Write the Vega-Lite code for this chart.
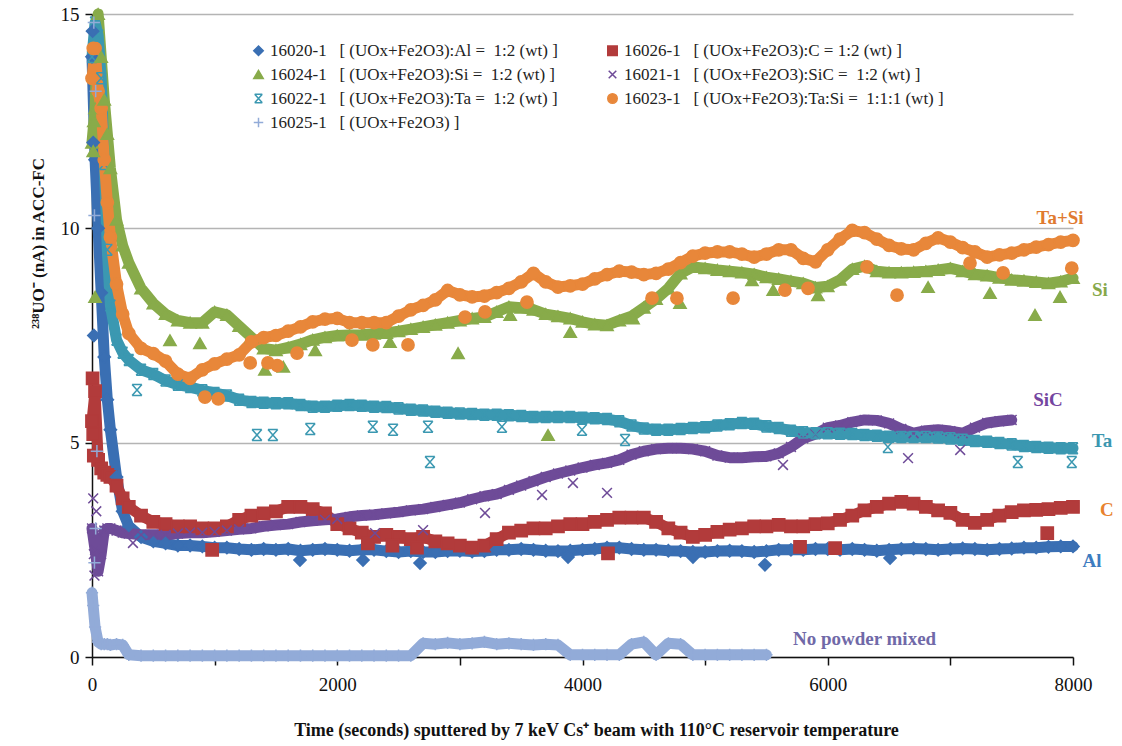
{
  "$schema": "https://vega.github.io/schema/vega-lite/v6.json",
  "width": 981,
  "height": 643,
  "autosize": {"type": "none"},
  "padding": {"left": 92, "top": 14, "right": 49, "bottom": 89},
  "background": "white",
  "config": {"view": {"stroke": null}, "font": "Liberation Serif"},
  "datasets": {
    "main": [
      {"t":0,"Al":14.0,"C":5.5,"Si":12.0,"SiC":3.0,"Ta":14.0,"TaSi":13.5,"None":1.5},
      {"t":25,"Al":11.6,"C":6.2,"Si":12.8,"SiC":2.5,"Ta":14.8,"TaSi":14.2,"None":0.7},
      {"t":50,"Al":10.0,"C":4.6,"Si":15.0,"SiC":2.0,"Ta":14.5,"TaSi":13.2,"None":0.35},
      {"t":75,"Al":8.5,"C":4.4,"Si":14.0,"SiC":2.4,"Ta":13.5,"TaSi":12.8,"None":0.3},
      {"t":100,"Al":7.0,"C":4.3,"Si":13.0,"SiC":2.95,"Ta":11.5,"TaSi":11.6,"None":0.3},
      {"t":125,"Al":6.0,"C":4.25,"Si":12.2,"SiC":3.0,"Ta":9.5,"TaSi":10.6,"None":0.3},
      {"t":150,"Al":5.3,"C":4.2,"Si":11.4,"SiC":3.0,"Ta":8.2,"TaSi":9.8,"None":0.28},
      {"t":200,"Al":4.2,"C":4.0,"Si":10.2,"SiC":2.95,"Ta":7.4,"TaSi":8.7,"None":0.3},
      {"t":250,"Al":3.4,"C":3.7,"Si":9.6,"SiC":2.9,"Ta":7.1,"TaSi":8.0,"None":0.28},
      {"t":300,"Al":3.05,"C":3.5,"Si":9.2,"SiC":2.88,"Ta":6.93,"TaSi":7.55,"None":0.05},
      {"t":400,"Al":2.8,"C":3.3,"Si":8.6,"SiC":2.85,"Ta":6.7,"TaSi":7.2,"None":0.03},
      {"t":500,"Al":2.7,"C":3.15,"Si":8.25,"SiC":2.85,"Ta":6.6,"TaSi":7.08,"None":0.03},
      {"t":600,"Al":2.65,"C":3.1,"Si":8.0,"SiC":2.85,"Ta":6.45,"TaSi":6.9,"None":0.03},
      {"t":700,"Al":2.6,"C":3.05,"Si":7.85,"SiC":2.88,"Ta":6.35,"TaSi":6.6,"None":0.03},
      {"t":800,"Al":2.6,"C":3.05,"Si":7.8,"SiC":2.9,"Ta":6.3,"TaSi":6.5,"None":0.03},
      {"t":900,"Al":2.58,"C":3.0,"Si":7.8,"SiC":2.9,"Ta":6.22,"TaSi":6.7,"None":0.03},
      {"t":1000,"Al":2.55,"C":3.0,"Si":8.05,"SiC":2.92,"Ta":6.16,"TaSi":6.84,"None":0.03},
      {"t":1100,"Al":2.55,"C":3.05,"Si":7.98,"SiC":2.95,"Ta":6.1,"TaSi":6.95,"None":0.03},
      {"t":1200,"Al":2.52,"C":3.2,"Si":7.72,"SiC":2.98,"Ta":6.0,"TaSi":7.05,"None":0.03},
      {"t":1300,"Al":2.5,"C":3.3,"Si":7.46,"SiC":3.0,"Ta":5.95,"TaSi":7.35,"None":0.03},
      {"t":1400,"Al":2.52,"C":3.35,"Si":7.2,"SiC":3.05,"Ta":5.93,"TaSi":7.45,"None":0.03},
      {"t":1500,"Al":2.5,"C":3.4,"Si":7.16,"SiC":3.08,"Ta":5.92,"TaSi":7.5,"None":0.03},
      {"t":1600,"Al":2.52,"C":3.5,"Si":7.22,"SiC":3.1,"Ta":5.92,"TaSi":7.6,"None":0.03},
      {"t":1700,"Al":2.48,"C":3.5,"Si":7.3,"SiC":3.15,"Ta":5.88,"TaSi":7.7,"None":0.03},
      {"t":1800,"Al":2.5,"C":3.45,"Si":7.4,"SiC":3.18,"Ta":5.84,"TaSi":7.82,"None":0.03},
      {"t":1900,"Al":2.52,"C":3.35,"Si":7.46,"SiC":3.2,"Ta":5.84,"TaSi":7.88,"None":0.03},
      {"t":2000,"Al":2.5,"C":3.1,"Si":7.5,"SiC":3.22,"Ta":5.86,"TaSi":7.9,"None":0.03},
      {"t":2100,"Al":2.48,"C":3.0,"Si":7.51,"SiC":3.27,"Ta":5.88,"TaSi":7.8,"None":0.03},
      {"t":2200,"Al":2.5,"C":2.9,"Si":7.52,"SiC":3.3,"Ta":5.86,"TaSi":7.8,"None":0.03},
      {"t":2300,"Al":2.5,"C":2.8,"Si":7.54,"SiC":3.32,"Ta":5.84,"TaSi":7.8,"None":0.03},
      {"t":2400,"Al":2.47,"C":2.85,"Si":7.56,"SiC":3.35,"Ta":5.83,"TaSi":7.8,"None":0.03},
      {"t":2500,"Al":2.45,"C":2.8,"Si":7.6,"SiC":3.38,"Ta":5.8,"TaSi":7.95,"None":0.03},
      {"t":2600,"Al":2.47,"C":2.75,"Si":7.65,"SiC":3.42,"Ta":5.77,"TaSi":8.1,"None":0.03},
      {"t":2700,"Al":2.45,"C":2.8,"Si":7.7,"SiC":3.45,"Ta":5.75,"TaSi":8.2,"None":0.32},
      {"t":2800,"Al":2.45,"C":2.7,"Si":7.75,"SiC":3.5,"Ta":5.72,"TaSi":8.33,"None":0.3},
      {"t":2900,"Al":2.47,"C":2.65,"Si":7.8,"SiC":3.55,"Ta":5.7,"TaSi":8.55,"None":0.33},
      {"t":3000,"Al":2.48,"C":2.6,"Si":7.85,"SiC":3.6,"Ta":5.68,"TaSi":8.45,"None":0.3},
      {"t":3100,"Al":2.46,"C":2.55,"Si":7.9,"SiC":3.68,"Ta":5.67,"TaSi":8.4,"None":0.32},
      {"t":3200,"Al":2.47,"C":2.6,"Si":7.93,"SiC":3.75,"Ta":5.65,"TaSi":8.42,"None":0.35},
      {"t":3300,"Al":2.5,"C":2.75,"Si":8.05,"SiC":3.8,"Ta":5.65,"TaSi":8.5,"None":0.3},
      {"t":3400,"Al":2.5,"C":2.9,"Si":8.17,"SiC":3.9,"Ta":5.64,"TaSi":8.6,"None":0.32},
      {"t":3500,"Al":2.52,"C":2.95,"Si":8.15,"SiC":4.0,"Ta":5.62,"TaSi":8.75,"None":0.3},
      {"t":3600,"Al":2.5,"C":3.0,"Si":8.1,"SiC":4.1,"Ta":5.6,"TaSi":8.95,"None":0.28},
      {"t":3700,"Al":2.48,"C":3.0,"Si":8.0,"SiC":4.2,"Ta":5.6,"TaSi":8.75,"None":0.3},
      {"t":3800,"Al":2.47,"C":3.05,"Si":7.95,"SiC":4.28,"Ta":5.6,"TaSi":8.63,"None":0.28},
      {"t":3900,"Al":2.48,"C":3.1,"Si":7.9,"SiC":4.35,"Ta":5.6,"TaSi":8.66,"None":0.05},
      {"t":4000,"Al":2.5,"C":3.1,"Si":7.82,"SiC":4.42,"Ta":5.58,"TaSi":8.7,"None":0.05},
      {"t":4100,"Al":2.52,"C":3.15,"Si":7.76,"SiC":4.48,"Ta":5.57,"TaSi":8.82,"None":0.05},
      {"t":4200,"Al":2.55,"C":3.2,"Si":7.74,"SiC":4.53,"Ta":5.55,"TaSi":8.92,"None":0.05},
      {"t":4300,"Al":2.55,"C":3.25,"Si":7.85,"SiC":4.6,"Ta":5.5,"TaSi":9.0,"None":0.05},
      {"t":4400,"Al":2.52,"C":3.25,"Si":7.95,"SiC":4.72,"Ta":5.4,"TaSi":8.98,"None":0.3},
      {"t":4500,"Al":2.5,"C":3.25,"Si":8.15,"SiC":4.8,"Ta":5.33,"TaSi":8.92,"None":0.35},
      {"t":4600,"Al":2.5,"C":3.15,"Si":8.35,"SiC":4.85,"Ta":5.3,"TaSi":8.95,"None":0.05},
      {"t":4700,"Al":2.48,"C":3.0,"Si":8.6,"SiC":4.87,"Ta":5.3,"TaSi":9.05,"None":0.32},
      {"t":4800,"Al":2.47,"C":2.9,"Si":8.95,"SiC":4.87,"Ta":5.32,"TaSi":9.2,"None":0.3},
      {"t":4900,"Al":2.45,"C":2.8,"Si":9.1,"SiC":4.85,"Ta":5.34,"TaSi":9.35,"None":0.05},
      {"t":5000,"Al":2.45,"C":2.85,"Si":9.07,"SiC":4.8,"Ta":5.36,"TaSi":9.42,"None":0.05},
      {"t":5100,"Al":2.47,"C":2.92,"Si":9.03,"SiC":4.7,"Ta":5.4,"TaSi":9.45,"None":0.05},
      {"t":5200,"Al":2.48,"C":2.97,"Si":9.0,"SiC":4.65,"Ta":5.43,"TaSi":9.45,"None":0.05},
      {"t":5300,"Al":2.47,"C":3.0,"Si":8.97,"SiC":4.65,"Ta":5.46,"TaSi":9.4,"None":0.05},
      {"t":5400,"Al":2.45,"C":3.05,"Si":8.93,"SiC":4.67,"Ta":5.44,"TaSi":9.33,"None":0.05},
      {"t":5500,"Al":2.47,"C":3.05,"Si":8.86,"SiC":4.68,"Ta":5.38,"TaSi":9.4,"None":0.05},
      {"t":5600,"Al":2.5,"C":3.08,"Si":8.82,"SiC":4.75,"Ta":5.34,"TaSi":9.5},
      {"t":5700,"Al":2.5,"C":3.05,"Si":8.77,"SiC":4.9,"Ta":5.28,"TaSi":9.5},
      {"t":5800,"Al":2.5,"C":3.05,"Si":8.72,"SiC":5.1,"Ta":5.24,"TaSi":9.3},
      {"t":5900,"Al":2.52,"C":3.1,"Si":8.62,"SiC":5.2,"Ta":5.22,"TaSi":9.22},
      {"t":6000,"Al":2.52,"C":3.12,"Si":8.65,"SiC":5.35,"Ta":5.22,"TaSi":9.5},
      {"t":6100,"Al":2.5,"C":3.2,"Si":8.8,"SiC":5.4,"Ta":5.21,"TaSi":9.75},
      {"t":6200,"Al":2.52,"C":3.3,"Si":9.05,"SiC":5.48,"Ta":5.2,"TaSi":9.95},
      {"t":6300,"Al":2.5,"C":3.42,"Si":9.12,"SiC":5.53,"Ta":5.18,"TaSi":9.9},
      {"t":6400,"Al":2.48,"C":3.5,"Si":9.0,"SiC":5.52,"Ta":5.16,"TaSi":9.75},
      {"t":6500,"Al":2.5,"C":3.58,"Si":8.97,"SiC":5.45,"Ta":5.14,"TaSi":9.6},
      {"t":6600,"Al":2.52,"C":3.62,"Si":8.97,"SiC":5.32,"Ta":5.13,"TaSi":9.52},
      {"t":6700,"Al":2.53,"C":3.58,"Si":8.98,"SiC":5.22,"Ta":5.13,"TaSi":9.5},
      {"t":6800,"Al":2.52,"C":3.5,"Si":9.0,"SiC":5.28,"Ta":5.13,"TaSi":9.65},
      {"t":6900,"Al":2.5,"C":3.42,"Si":9.03,"SiC":5.3,"Ta":5.12,"TaSi":9.78},
      {"t":7000,"Al":2.52,"C":3.36,"Si":9.07,"SiC":5.27,"Ta":5.1,"TaSi":9.68},
      {"t":7100,"Al":2.53,"C":3.2,"Si":9.0,"SiC":5.22,"Ta":5.07,"TaSi":9.55},
      {"t":7200,"Al":2.52,"C":3.13,"Si":8.93,"SiC":5.35,"Ta":5.04,"TaSi":9.45},
      {"t":7300,"Al":2.5,"C":3.2,"Si":8.9,"SiC":5.46,"Ta":5.02,"TaSi":9.33},
      {"t":7400,"Al":2.52,"C":3.3,"Si":8.85,"SiC":5.5,"Ta":4.99,"TaSi":9.38},
      {"t":7500,"Al":2.53,"C":3.38,"Si":8.8,"SiC":5.53,"Ta":4.96,"TaSi":9.42},
      {"t":7600,"Al":2.55,"C":3.42,"Si":8.78,"Ta":4.92,"TaSi":9.5},
      {"t":7700,"Al":2.55,"C":3.43,"Si":8.75,"Ta":4.9,"TaSi":9.56},
      {"t":7800,"Al":2.57,"C":3.45,"Si":8.72,"Ta":4.88,"TaSi":9.62},
      {"t":7900,"Al":2.58,"C":3.48,"Si":8.76,"Ta":4.87,"TaSi":9.68},
      {"t":8000,"Al":2.58,"C":3.5,"Si":8.84,"Ta":4.87,"TaSi":9.72}
    ],
    "outliers": [
      {"series":"Al","t":1696,"v":2.26},{"series":"Al","t":2210,"v":2.26},{"series":"Al","t":2675,"v":2.19},{"series":"Al","t":3882,"v":2.33},{"series":"Al","t":4901,"v":2.33},{"series":"Al","t":5488,"v":2.15},{"series":"Al","t":6508,"v":2.31},{"series":"Al","t":5,"v":14.6},{"series":"Al","t":10,"v":12.0},{"series":"Al","t":15,"v":7.5},
      {"series":"C","t":980,"v":2.5},{"series":"C","t":4208,"v":2.42},{"series":"C","t":5774,"v":2.57},{"series":"C","t":6060,"v":2.54},{"series":"C","t":7790,"v":2.89},{"series":"C","t":5,"v":6.5},{"series":"C","t":10,"v":5.2},{"series":"C","t":15,"v":4.7},{"series":"C","t":2250,"v":2.65},{"series":"C","t":2450,"v":2.6},{"series":"C","t":2650,"v":2.55},
      {"series":"Si","t":25,"v":8.4},{"series":"Si","t":10,"v":11.8},{"series":"Si","t":15,"v":12.5},{"series":"Si","t":636,"v":7.39},{"series":"Si","t":880,"v":7.32},{"series":"Si","t":1410,"v":6.7},{"series":"Si","t":1560,"v":6.77},{"series":"Si","t":1820,"v":7.16},{"series":"Si","t":2430,"v":7.35},{"series":"Si","t":2985,"v":7.09},{"series":"Si","t":3410,"v":7.98},{"series":"Si","t":3900,"v":7.58},{"series":"Si","t":4412,"v":7.9},{"series":"Si","t":4795,"v":8.26},{"series":"Si","t":5382,"v":8.79},{"series":"Si","t":5555,"v":8.56},{"series":"Si","t":5920,"v":8.44},{"series":"Si","t":3719,"v":5.18},{"series":"Si","t":6818,"v":8.63},{"series":"Si","t":7323,"v":8.49},{"series":"Si","t":7690,"v":7.98},{"series":"Si","t":7894,"v":8.4},
      {"series":"SiC","t":334,"v":2.66},{"series":"SiC","t":2308,"v":2.89},{"series":"SiC","t":2700,"v":2.96},{"series":"SiC","t":3205,"v":3.36},{"series":"SiC","t":3670,"v":3.78},{"series":"SiC","t":3922,"v":4.06},{"series":"SiC","t":4200,"v":3.83},{"series":"SiC","t":5635,"v":4.48},{"series":"SiC","t":6655,"v":4.64},{"series":"SiC","t":7080,"v":4.83},{"series":"SiC","t":10,"v":3.7},{"series":"SiC","t":20,"v":1.9},{"series":"SiC","t":35,"v":3.4},{"series":"SiC","t":15,"v":2.4},{"series":"SiC","t":40,"v":2.9},
      {"series":"Ta","t":367,"v":6.23},{"series":"Ta","t":1345,"v":5.18},{"series":"Ta","t":1475,"v":5.18},{"series":"Ta","t":1780,"v":5.32},{"series":"Ta","t":2290,"v":5.37},{"series":"Ta","t":2455,"v":5.3},{"series":"Ta","t":2740,"v":5.37},{"series":"Ta","t":2756,"v":4.55},{"series":"Ta","t":3343,"v":5.37},{"series":"Ta","t":3996,"v":5.3},{"series":"Ta","t":4347,"v":5.06},{"series":"Ta","t":6490,"v":4.9},{"series":"Ta","t":7550,"v":4.55},{"series":"Ta","t":7990,"v":4.55},
      {"series":"TaSi","t":921,"v":6.06},{"series":"TaSi","t":1030,"v":6.02},{"series":"TaSi","t":1290,"v":6.86},{"series":"TaSi","t":1435,"v":6.86},{"series":"TaSi","t":1510,"v":6.8},{"series":"TaSi","t":1672,"v":7.09},{"series":"TaSi","t":2120,"v":7.39},{"series":"TaSi","t":2290,"v":7.28},{"series":"TaSi","t":2577,"v":7.28},{"series":"TaSi","t":3042,"v":7.93},{"series":"TaSi","t":3205,"v":8.05},{"series":"TaSi","t":3547,"v":8.28},{"series":"TaSi","t":4567,"v":8.37},{"series":"TaSi","t":4770,"v":8.37},{"series":"TaSi","t":5228,"v":8.37},{"series":"TaSi","t":5651,"v":8.56},{"series":"TaSi","t":5839,"v":8.6},{"series":"TaSi","t":6320,"v":9.1},{"series":"TaSi","t":6565,"v":8.44},{"series":"TaSi","t":7160,"v":9.19},{"series":"TaSi","t":7430,"v":8.96},{"series":"TaSi","t":7990,"v":9.07},{"series":"TaSi","t":10,"v":14.2},
      {"series":"None","t":15,"v":14.8},{"series":"None","t":30,"v":13.2},{"series":"None","t":20,"v":10.3},{"series":"None","t":40,"v":4.8},{"series":"None","t":30,"v":3.0},{"series":"None","t":20,"v":2.2},{"series":"None","t":10,"v":1.2}
    ],
    "labels": [
      {"t":7894,"v":10.24,"label":"Ta+Si"},
      {"t":8220,"v":8.56,"label":"Si"},
      {"t":7796,"v":6.0,"label":"SiC"},
      {"t":8237,"v":5.04,"label":"Ta"},
      {"t":8277,"v":3.43,"label":"C"},
      {"t":8155,"v":2.24,"label":"Al"},
      {"t":6300,"v":0.42,"label":"No powder mixed"}
    ]
  },
  "layer": [
    {
      "data": {"name": "main"},
      "transform": [
        {"fold": ["Al", "C", "Si", "SiC", "Ta", "TaSi", "None"], "as": ["series", "v"]},
        {"filter": "isValid(datum.v)"}
      ],
      "mark": {"type": "line", "strokeWidth": 11, "strokeCap": "round", "strokeJoin": "round"},
      "encoding": {
        "x": {"field": "t", "type": "quantitative", "scale": {"domain": [0, 8000], "nice": false},
          "axis": {"values": [0,1000,2000,3000,4000,5000,6000,7000,8000], "format": "d", "labelExpr": "datum.value % 2000 === 0 ? datum.label : ''", "labelFlush": false, "grid": false, "tickSize": 8, "tickColor": "#111", "tickWidth": 1.5, "domainColor": "#111", "domainWidth": 1.5, "labelFont": "Liberation Serif", "labelFontSize": 19, "labelColor": "#111", "labelPadding": 10, "zindex": 0,
            "title": "Time (seconds) sputtered by 7 keV Cs⁺ beam with 110°C reservoir temperature", "titleFont": "Liberation Serif", "titleFontSize": 18, "titleFontWeight": "bold", "titleColor": "#111", "titleX": 504, "titleY": 73, "titleBaseline": "middle"}},
        "y": {"field": "v", "type": "quantitative", "scale": {"domain": [0, 15], "nice": false},
          "axis": {"values": [0,5,10,15], "labelFlush": false, "grid": true, "gridColor": "#b4b4b4", "gridWidth": 1.5, "tickSize": 7, "tickColor": "#111", "tickWidth": 1.5, "domainColor": "#111", "domainWidth": 1.5, "labelFont": "Liberation Serif", "labelFontSize": 19, "labelColor": "#111", "labelPadding": 6, "zindex": 0,
            "title": "²³⁸UO⁻ (nA) in ACC-FC", "titleFont": "Liberation Serif", "titleFontSize": 17, "titleFontWeight": "bold", "titleColor": "#111", "titleX": -54, "titleY": 229, "titleAngle": 270, "titleAlign": "center", "titleBaseline": "middle"}},
        "stroke": {"field": "series", "type": "nominal",
          "scale": {"domain": ["Al","Si","Ta","None","C","SiC","TaSi"], "range": ["#3a6fb3","#88ab4a","#3b98b1","#92abd8","#b23b3b","#6e4b98","#e8873a"]}}
      }
    },
    {
      "data": {"name": "main"},
      "transform": [
        {"fold": ["Al", "C", "Si", "SiC", "Ta", "TaSi", "None"], "as": ["series", "v"]},
        {"filter": "isValid(datum.v)"}
      ],
      "mark": {"type": "point", "filled": true, "size": 150, "strokeWidth": 1.5, "opacity": 1},
      "encoding": {
        "x": {"field": "t", "type": "quantitative"},
        "y": {"field": "v", "type": "quantitative"},
        "fill": {"field": "series", "type": "nominal",
          "scale": {"domain": ["Al","Si","Ta","None","C","SiC","TaSi"], "range": ["#3a6fb3","#88ab4a","#3b98b1","#92abd8","#b23b3b","#6e4b98","#e8873a"]},
          "legend": {"title": null, "orient": "none", "legendX": 158, "legendY": 28, "columns": 2, "columnPadding": 46, "rowPadding": 6, "symbolSize": 90, "symbolStrokeWidth": 1.5, "symbolType": "circle", "labelFont": "Liberation Serif", "labelFontSize": 17, "labelColor": "#222", "labelLimit": 600, "labelOffset": 3,
            "labelExpr": "{'Al':'16020-1\u00a0\u00a0 [ (UOx+Fe2O3):Al =\u00a0 1:2 (wt) ]','C':'16026-1\u00a0\u00a0 [ (UOx+Fe2O3):C = 1:2 (wt) ]','Si':'16024-1\u00a0\u00a0 [ (UOx+Fe2O3):Si =\u00a0 1:2 (wt) ]','SiC':'16021-1\u00a0\u00a0 [ (UOx+Fe2O3):SiC =\u00a0 1:2 (wt) ]','Ta':'16022-1\u00a0\u00a0 [ (UOx+Fe2O3):Ta =\u00a0 1:2 (wt) ]','TaSi':'16023-1\u00a0\u00a0 [ (UOx+Fe2O3):Ta:Si =\u00a0 1:1:1 (wt) ]','None':'16025-1\u00a0\u00a0 [ (UOx+Fe2O3) ]'}[datum.label]"}},
        "stroke": {"field": "series", "type": "nominal",
          "legend": {"title": null, "orient": "none", "legendX": 158, "legendY": 28, "columns": 2, "columnPadding": 46, "rowPadding": 6, "symbolSize": 90, "symbolStrokeWidth": 1.5, "symbolType": "circle", "labelFont": "Liberation Serif", "labelFontSize": 17, "labelColor": "#222", "labelLimit": 600, "labelOffset": 3,
            "labelExpr": "{'Al':'16020-1\u00a0\u00a0 [ (UOx+Fe2O3):Al =\u00a0 1:2 (wt) ]','C':'16026-1\u00a0\u00a0 [ (UOx+Fe2O3):C = 1:2 (wt) ]','Si':'16024-1\u00a0\u00a0 [ (UOx+Fe2O3):Si =\u00a0 1:2 (wt) ]','SiC':'16021-1\u00a0\u00a0 [ (UOx+Fe2O3):SiC =\u00a0 1:2 (wt) ]','Ta':'16022-1\u00a0\u00a0 [ (UOx+Fe2O3):Ta =\u00a0 1:2 (wt) ]','TaSi':'16023-1\u00a0\u00a0 [ (UOx+Fe2O3):Ta:Si =\u00a0 1:1:1 (wt) ]','None':'16025-1\u00a0\u00a0 [ (UOx+Fe2O3) ]'}[datum.label]"}},
        "shape": {"field": "series", "type": "nominal",
          "scale": {"domain": ["Al","Si","Ta","None","C","SiC","TaSi"], "range": ["diamond","triangle-up","M-0.8,-0.9L0.8,-0.9M-0.8,0.9L0.8,0.9M-0.8,-0.9L0.8,0.9M0.8,-0.9L-0.8,0.9","M-1,0L1,0M0,-1L0,1","square","M-0.8,-0.8L0.8,0.8M0.8,-0.8L-0.8,0.8","circle"]},
          "legend": {"title": null, "orient": "none", "legendX": 158, "legendY": 28, "columns": 2, "columnPadding": 46, "rowPadding": 6, "symbolSize": 90, "symbolStrokeWidth": 1.5, "symbolType": "circle", "labelFont": "Liberation Serif", "labelFontSize": 17, "labelColor": "#222", "labelLimit": 600, "labelOffset": 3,
            "labelExpr": "{'Al':'16020-1\u00a0\u00a0 [ (UOx+Fe2O3):Al =\u00a0 1:2 (wt) ]','C':'16026-1\u00a0\u00a0 [ (UOx+Fe2O3):C = 1:2 (wt) ]','Si':'16024-1\u00a0\u00a0 [ (UOx+Fe2O3):Si =\u00a0 1:2 (wt) ]','SiC':'16021-1\u00a0\u00a0 [ (UOx+Fe2O3):SiC =\u00a0 1:2 (wt) ]','Ta':'16022-1\u00a0\u00a0 [ (UOx+Fe2O3):Ta =\u00a0 1:2 (wt) ]','TaSi':'16023-1\u00a0\u00a0 [ (UOx+Fe2O3):Ta:Si =\u00a0 1:1:1 (wt) ]','None':'16025-1\u00a0\u00a0 [ (UOx+Fe2O3) ]'}[datum.label]"}}
      }
    },
    {
      "data": {"name": "outliers"},
      "mark": {"type": "point", "filled": true, "size": 150, "strokeWidth": 1.5, "opacity": 1},
      "encoding": {
        "x": {"field": "t", "type": "quantitative"},
        "y": {"field": "v", "type": "quantitative"},
        "fill": {"field": "series", "type": "nominal"},
        "stroke": {"field": "series", "type": "nominal"},
        "shape": {"field": "series", "type": "nominal"}
      }
    },
    {
      "data": {"name": "labels"},
      "mark": {"type": "text", "font": "Liberation Serif", "fontSize": 19, "fontWeight": "bold", "align": "center", "baseline": "middle"},
      "encoding": {
        "x": {"field": "t", "type": "quantitative"},
        "y": {"field": "v", "type": "quantitative"},
        "text": {"field": "label"},
        "color": {"field": "label", "type": "nominal",
          "scale": {"domain": ["Ta+Si","Si","SiC","Ta","C","Al","No powder mixed"], "range": ["#e07a30","#86a84a","#7445a0","#3b97b0","#e8822e","#3d7cc0","#7069a8"]},
          "legend": null}
      }
    }
  ]
}
